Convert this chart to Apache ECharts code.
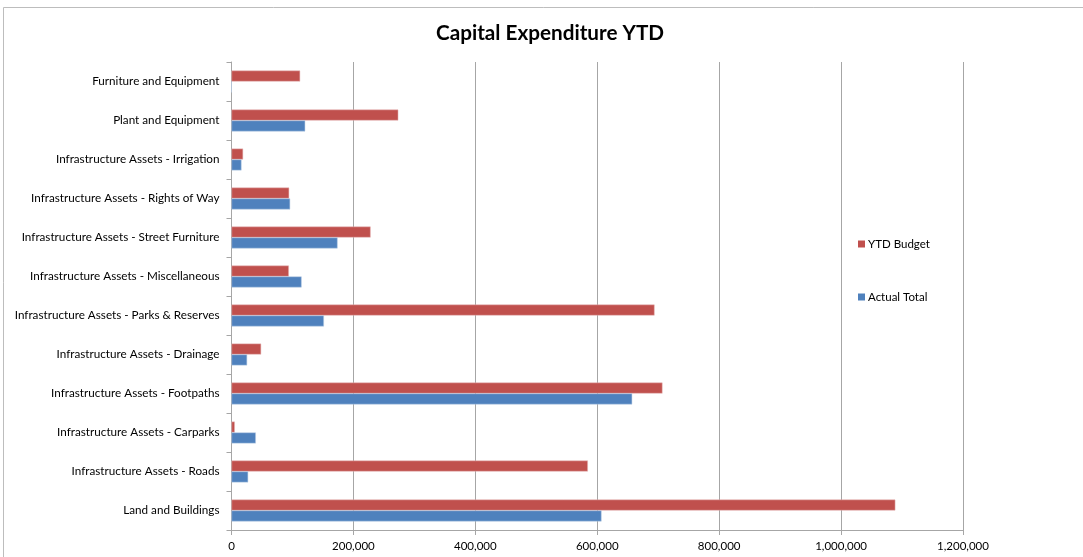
<!DOCTYPE html>
<html>
<head>
<meta charset="utf-8">
<script src="https://cdn.jsdelivr.net/npm/echarts@6/dist/echarts.min.js"></script>
<style>
html,body{margin:0;padding:0;background:#fff;}
#chart{width:1083px;height:557px;}
</style>
</head>
<body>
<div id="chart"></div>
<script>
const categories = [
  'Land and Buildings',
  'Infrastructure Assets - Roads',
  'Infrastructure Assets - Carparks',
  'Infrastructure Assets - Footpaths',
  'Infrastructure Assets - Drainage',
  'Infrastructure Assets - Parks & Reserves',
  'Infrastructure Assets - Miscellaneous',
  'Infrastructure Assets - Street Furniture',
  'Infrastructure Assets - Rights of Way',
  'Infrastructure Assets - Irrigation',
  'Plant and Equipment',
  'Furniture and Equipment'
];
const actualTotal = [607000, 27300, 39900, 657300, 25600, 151600, 115000, 174000, 96200, 16400, 120900, 0];
const ytdBudget = [1089000, 584600, 5400, 707000, 48600, 694000, 94100, 228200, 94600, 19000, 273600, 112600];
const xTicks = { min: 0, max: 1200000, interval: 200000 };

const chart = echarts.init(document.getElementById('chart'));
const font = 'Lato, "Open Sans", sans-serif';
chart.setOption({
  backgroundColor: '#ffffff',
  animation: false,
  title: {
    text: 'Capital Expenditure YTD',
    left: 545, top: 18, textAlign: 'center',
    textStyle: { fontFamily: font, fontSize: 20.7, fontWeight: 'bold', color: '#000' }
  },
  graphic: [{
    type: 'rect', shape: { x: 3.5, y: 7.5, width: 1090, height: 560 },
    style: { fill: 'none', stroke: '#bdbdbd', lineWidth: 1 }, silent: true
  }],
  legend: {
    data: ['YTD Budget', 'Actual Total'],
    orient: 'vertical', left: 853, top: 233,
    itemWidth: 7, itemHeight: 7, itemGap: 41,
    icon: 'rect',
    itemStyle: { borderWidth: 0 },
    textStyle: { fontFamily: font, fontSize: 11.5, color: '#000', padding: [0,0,0,-2] }
  },
  grid: { left: 231.5, top: 62, width: 731.5, height: 468, containLabel: false },
  xAxis: {
    type: 'value', min: xTicks.min, max: xTicks.max, interval: xTicks.interval,
    axisLine: { show: true, lineStyle: { color: '#a6a6a6' } },
    axisTick: { show: true, length: 5, lineStyle: { color: '#a6a6a6' } },
    splitLine: { show: true, lineStyle: { color: '#a6a6a6', width: 1 } },
    axisLabel: {
      fontFamily: font, fontSize: 11.5, color: '#000', margin: 10,
      formatter: v => v.toLocaleString('en-US')
    }
  },
  yAxis: {
    type: 'category', data: categories,
    axisLine: { show: true, lineStyle: { color: '#a6a6a6' } },
    axisTick: { show: true, length: 5, lineStyle: { color: '#a6a6a6' } },
    axisLabel: { fontFamily: font, fontSize: 11.7, color: '#000', margin: 12 }
  },
  series: [
    {
      name: 'YTD Budget', type: 'bar', data: ytdBudget,
      barGap: '0%', barCategoryGap: '44%',
      itemStyle: { color: '#c0504d', borderColor: '#e6b9b8', borderWidth: 0.5 }
    },
    {
      name: 'Actual Total', type: 'bar', data: actualTotal,
      barGap: '0%', barCategoryGap: '44%',
      itemStyle: { color: '#4f81bd', borderColor: '#b9cde5', borderWidth: 0.5 }
    }
  ]
});
</script>
</body>
</html>
